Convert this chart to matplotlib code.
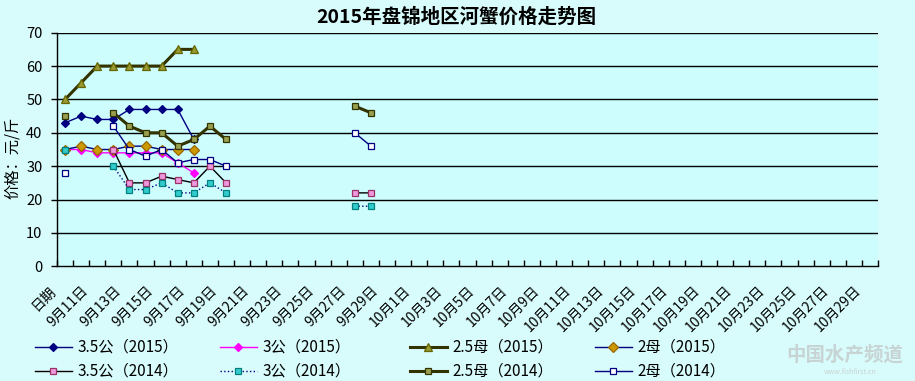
import numpy as np
import matplotlib
matplotlib.use('Agg')
import matplotlib.pyplot as plt
import matplotlib.transforms as mtransforms

plt.rcParams['font.family'] = ['Noto Sans CJK SC', 'DejaVu Sans']

# ---------------- data ----------------
categories = ['日期'] + [f'9月{d}日' for d in range(10, 31)] + [f'10月{d}日' for d in range(1, 30)]

N = np.nan
s35g_2015 = [43, 45, 44, 44, 47, 47, 47, 47, 38]
s3g_2015 = [35, 35, 34, 34, 34, 34, 34, 31, 28]
s25m_2015 = [50, 55, 60, 60, 60, 60, 60, 65, 65]
s2m_2015 = [35, 36, 35, 35, 36, 36, 35, 35, 35]
s35g_2014 = [N, N, N, 35, 25, 25, 27, 26, 25, 30, 25, N, N, N, N, N, N, N, 22, 22]
s3g_2014 = [35, N, N, 30, 23, 23, 25, 22, 22, 25, 22, N, N, N, N, N, N, N, 18, 18]
s25m_2014 = [45, N, N, 46, 42, 40, 40, 36, 38, 42, 38, N, N, N, N, N, N, N, 48, 46]
s2m_2014 = [28, N, N, 42, 35, 33, 35, 31, 32, 32, 30, N, N, N, N, N, N, N, 40, 36]

series_names = ['3.5公（2015）', '3公（2015）', '2.5母（2015）', '2母（2015）',
                '3.5公（2014）', '3公（2014）', '2.5母（2014）', '2母（2014）']
series_values = [s35g_2015, s3g_2015, s25m_2015, s2m_2015,
                 s35g_2014, s3g_2014, s25m_2014, s2m_2014]
y_ticks = [0, 10, 20, 30, 40, 50, 60, 70]

title = '2015年盘锦地区河蟹价格走势图'
y_label = '价格：元/斤'

# ---------------- styles ----------------
styles = [
    dict(color='#000080', lw=1.0, ls='-', marker='D', ms=4.5, mfc='#000080', mec='#000080'),
    dict(color='#ff00ff', lw=1.0, ls='-', marker='D', ms=4.5, mfc='#ff00ff', mec='#ff00ff'),
    dict(color='#333300', lw=2.2, ls='-', marker='^', ms=6, mfc='#999933', mec='#666600'),
    dict(color='#000080', lw=1.0, ls='-', marker='D', ms=5, mfc='#cc9900', mec='#996600'),
    dict(color='#000000', lw=1.0, ls='-', marker='s', ms=5, mfc='#ee99dd', mec='#993366'),
    dict(color='#000080', lw=1.0, ls=':', marker='s', ms=5, mfc='#33cccc', mec='#008080'),
    dict(color='#333300', lw=2.2, ls='-', marker='s', ms=5, mfc='#99a050', mec='#333300'),
    dict(color='#000080', lw=1.0, ls='-', marker='s', ms=5, mfc='#ffffff', mec='#000080'),
]

W, H = 915, 381
fig = plt.figure(figsize=(W / 100, H / 100), dpi=100)
fig.patch.set_facecolor('#d8fbfb')

ax_left, ax_right = 57, 878
ax_top, ax_bottom = 32.7, 266.3
ax = fig.add_axes([ax_left / W, 1 - ax_bottom / H, (ax_right - ax_left) / W, (ax_bottom - ax_top) / H])
ax.set_facecolor('#cdfdfd')

lines = []
for i, (vals, st) in enumerate(zip(series_values, styles)):
    x = np.arange(len(vals))
    ln, = ax.plot(x, np.array(vals, dtype=float), color=st['color'], lw=st['lw'], ls=st['ls'],
                  marker=st['marker'], markersize=st['ms'], markerfacecolor=st['mfc'],
                  markeredgecolor=st['mec'], markeredgewidth=0.9, zorder=3 + i,
                  label=series_names[i], clip_on=False)
    lines.append(ln)

ax.set_xlim(-0.5, len(categories) - 0.5)
ax.set_ylim(0, 70)
ax.set_yticks(y_ticks)
ax.set_yticklabels([str(v) for v in y_ticks], fontsize=10.5)
ax.tick_params(axis='y', direction='out', length=4, width=1, pad=6.5, colors='black')
ax.set_xticks(np.arange(-0.5, len(categories), 1.0))
ax.set_xticklabels([])
ax.tick_params(axis='x', direction='in', length=4, width=1, colors='black')
for v in y_ticks[1:]:
    ax.axhline(v, color='black', lw=1, zorder=1)
for s in ['top', 'right']:
    ax.spines[s].set_visible(False)
for s in ['left', 'bottom']:
    ax.spines[s].set_color('black')
    ax.spines[s].set_linewidth(1)

# rotated category labels every other category
base = mtransforms.blended_transform_factory(ax.transData, ax.transAxes)
off = mtransforms.ScaledTranslation(-11 / 100, -22 / 100, fig.dpi_scale_trans)
for i, lab in enumerate(categories):
    if i % 2 == 0:
        ax.text(i, 0, lab, transform=base + off, rotation=45, rotation_mode='anchor',
                ha='right', va='center', fontsize=10, color='black', clip_on=False)

fig.text(456 / W, 1 - 17 / H, title, ha='center', va='center', fontsize=14,
         fontweight='bold', color='black')
fig.text(12 / W, 1 - 158 / H, y_label, rotation=90, ha='center', va='center',
         fontsize=11, color='black')

# legend: 4 columns x 2 rows
col_x = [35, 220, 410, 595]
for c in range(4):
    leg = fig.legend(handles=[lines[c], lines[c + 4]], labels=[series_names[c], series_names[c + 4]],
                     loc='upper left', bbox_to_anchor=(col_x[c] / W, 1 - 339 / H),
                     bbox_transform=fig.transFigure, frameon=False, fontsize=11,
                     handlelength=2.4, handletextpad=0.4, labelspacing=0.45,
                     borderpad=0, borderaxespad=0, numpoints=1)

# watermark
fig.text(845 / W, 1 - 355 / H, '中国水产频道', ha='center', va='center', fontsize=14,
         color='#c8d3d3', fontweight='bold')
fig.text(850 / W, 1 - 372 / H, 'www.fishfirst.cn', ha='center', va='center', fontsize=5,
         color='#c8d3d3')

fig.savefig('out.png', dpi=100, facecolor=fig.get_facecolor())
